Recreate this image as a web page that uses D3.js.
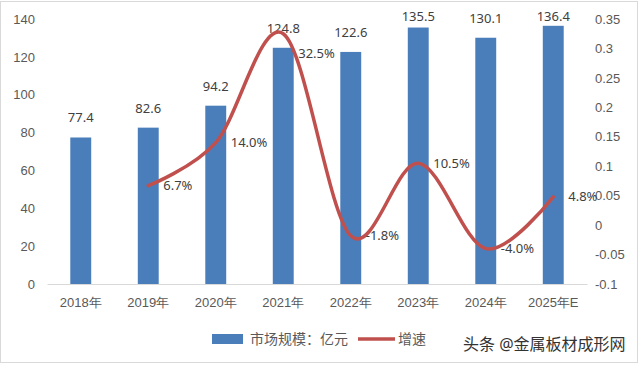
<!DOCTYPE html>
<html>
<head>
<meta charset="utf-8">
<script src="https://cdn.jsdelivr.net/npm/d3@7"></script>
<style>
  body { margin: 0; background: #fff; }
  svg { font-family: "Noto Sans", "Noto Sans CJK SC", sans-serif; }
</style>
</head>
<body>
<div id="chart"></div>
<script>
// data
var years = ["2018年", "2019年", "2020年", "2021年", "2022年", "2023年", "2024年", "2025年E"];
var marketSize = [77.4, 82.6, 94.2, 124.8, 122.6, 135.5, 130.1, 136.4];
var growth = [null, 0.067, 0.14, 0.325, -0.018, 0.105, -0.04, 0.048];
var growthLabels = ["", "6.7%", "14.0%", "32.5%", "-1.8%", "10.5%", "-4.0%", "4.8%"];
var leftTicks = [0, 20, 40, 60, 80, 100, 120, 140];
var rightTicks = [-0.1, -0.05, 0, 0.05, 0.1, 0.15, 0.2, 0.25, 0.3, 0.35];

var svgWidth = 640, svgHeight = 365;
var margin = { top: 19, bottom: 81, left: 47, right: 53 };
var width = svgWidth - margin.left - margin.right;
var height = svgHeight - margin.top - margin.bottom;

var svg = d3.select("#chart").append("svg")
    .attr("width", svgWidth)
    .attr("height", svgHeight);

// outer frame
svg.append("rect")
    .attr("x", 0.5).attr("y", 1.5)
    .attr("width", svgWidth - 3).attr("height", svgHeight - 4)
    .attr("fill", "none")
    .attr("stroke", "#d9d9d9");

var chartGroup = svg.append("g")
    .attr("transform", `translate(${margin.left}, ${margin.top})`);

var x = d3.scaleBand().domain(years).range([0, width]).paddingInner(0.69).paddingOuter(0.345);
var yLeft = d3.scaleLinear().domain([0, 140]).range([height, 0]);
var yRight = d3.scaleLinear().domain([-0.1, 0.35]).range([height, 0]);

// left axis
var leftAxis = d3.axisLeft(yLeft).tickValues(leftTicks).tickSize(0).tickPadding(12);
var gl = chartGroup.append("g").call(leftAxis);
gl.select(".domain").remove();
gl.selectAll("text").attr("fill", "#595959").style("font-size", "13px");

// right axis
var rightAxis = d3.axisRight(yRight).tickValues(rightTicks).tickSize(0).tickPadding(8)
    .tickFormat(d => String(+d.toFixed(2)));
var gr = chartGroup.append("g").attr("transform", `translate(${width}, 0)`).call(rightAxis);
gr.select(".domain").remove();
gr.selectAll("text").attr("fill", "#595959").style("font-size", "13px");

// bars
chartGroup.selectAll("rect.bar")
    .data(marketSize)
    .enter()
    .append("rect")
    .attr("class", "bar")
    .attr("x", (d, i) => x(years[i]))
    .attr("y", d => yLeft(d))
    .attr("width", x.bandwidth())
    .attr("height", d => height - yLeft(d))
    .attr("fill", "#4a7ebb");

// bottom axis
var bottomAxis = d3.axisBottom(x).tickSize(0).tickPadding(14);
var gb = chartGroup.append("g").attr("transform", `translate(0, ${height})`).call(bottomAxis);
gb.select(".domain").attr("stroke", "#d9d9d9").attr("stroke-width", 1.2);
gb.selectAll("text").attr("fill", "#595959").style("font-size", "13px");

// bar value labels (kept inside the frame at the top)
chartGroup.selectAll("text.val")
    .data(marketSize)
    .enter()
    .append("text")
    .attr("class", "val")
    .attr("x", (d, i) => x(years[i]) + x.bandwidth() / 2)
    .attr("y", d => Math.max(yLeft(d) - 15, 2))
    .attr("text-anchor", "middle")
    .attr("fill", "#404040")
    .style("font-size", "13px")
    .text(d => d.toFixed(1));

// growth line
var pts = growth.map((g, i) => ({ x: x(years[i]) + x.bandwidth() / 2, g: g, i: i }))
    .filter(p => p.g !== null);

var line = d3.line()
    .x(p => p.x)
    .y(p => yRight(p.g))
    .curve(d3.curveCatmullRom.alpha(0));

chartGroup.append("path")
    .datum(pts)
    .attr("d", line)
    .attr("fill", "none")
    .attr("stroke", "#c0504d")
    .attr("stroke-width", 3.5)
    .attr("stroke-linecap", "round");

// growth labels
chartGroup.selectAll("text.gr")
    .data(pts)
    .enter()
    .append("text")
    .attr("class", "gr")
    .attr("x", p => p.x + 15)
    .attr("y", p => yRight(p.g) + (p.i === 3 ? 20 : 0))
    .attr("dy", "0.35em")
    .attr("fill", "#404040")
    .style("font-size", "13px")
    .text(p => growthLabels[p.i]);

// legend
var legend = svg.append("g").attr("transform", "translate(212, 339)");
legend.append("rect").attr("x", 0).attr("y", -5).attr("width", 31).attr("height", 10).attr("fill", "#4a7ebb");
legend.append("text").attr("x", 38).attr("y", 0).attr("dy", "0.35em")
    .attr("fill", "#595959").style("font-size", "14px").text("市场规模：亿元");
legend.append("line").attr("x1", 146).attr("x2", 183).attr("y1", 0).attr("y2", 0)
    .attr("stroke", "#c0504d").attr("stroke-width", 3.5);
legend.append("text").attr("x", 186).attr("y", 0).attr("dy", "0.35em")
    .attr("fill", "#595959").style("font-size", "14px").text("增速");

// watermark
svg.append("text")
    .attr("x", 463).attr("y", 344).attr("dy", "0.35em")
    .attr("fill", "#333")
    .attr("stroke", "#fff").attr("stroke-width", 2).attr("paint-order", "stroke")
    .style("font-size", "16px")
    .text("头条 @金属板材成形网");
</script>
</body>
</html>
